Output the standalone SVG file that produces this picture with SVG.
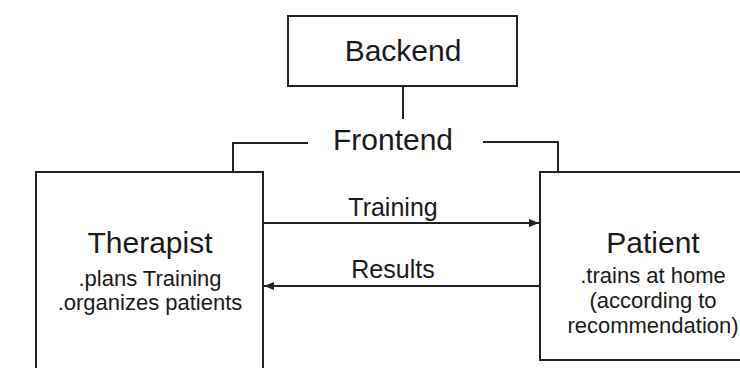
<svg xmlns="http://www.w3.org/2000/svg" width="740" height="368" viewBox="0 0 740 368">
<style>
.box{fill:#fff;stroke:#222;stroke-width:2}
.ln{fill:none;stroke:#222;stroke-width:2}
text{font-family:"Liberation Sans",Arial,sans-serif;fill:#1a1a1a;text-anchor:middle}
.big{font-size:30px}
.mid{font-size:25px}
.sm{font-size:22px}
</style>
<defs>
<marker id="ah" viewBox="0 0 10 10" refX="10" refY="5" markerWidth="5" markerHeight="5" orient="auto" markerUnits="strokeWidth">
<path d="M0,1 L10,5 L0,9 z" fill="#222"/>
</marker>
</defs>
<rect width="740" height="368" fill="#fff"/>
<g id="connectors">
<line class="ln" x1="403" y1="86" x2="403" y2="119"/>
<polyline class="ln" points="308,143 233,143 233,172"/>
<polyline class="ln" points="483,142 558,142 558,172"/>
<line class="ln" x1="263" y1="223" x2="539" y2="223" marker-end="url(#ah)"/>
<line class="ln" x1="540" y1="286" x2="264" y2="286" marker-end="url(#ah)"/>
<text class="mid" x="393" y="216">Training</text>
<text class="mid" x="393" y="278">Results</text>
</g>
<g id="backend">
<rect class="box" x="288" y="16" width="229" height="70"/>
<text class="big" x="403" y="61">Backend</text>
</g>
<g id="frontend">
<text class="big" x="393" y="150">Frontend</text>
</g>
<g id="therapist">
<rect class="box" x="36" y="172" width="227" height="210"/>
<text class="big" x="150" y="253">Therapist</text>
<text class="sm" x="150" y="286">.plans Training</text>
<text class="sm" x="150" y="310">.organizes patients</text>
</g>
<g id="patient">
<rect class="box" x="540" y="172" width="220" height="188"/>
<text class="big" x="653" y="253">Patient</text>
<text class="sm" x="653" y="283">.trains at home</text>
<text class="sm" x="653" y="308">(according to</text>
<text class="sm" x="653" y="333">recommendation)</text>
</g>
</svg>
